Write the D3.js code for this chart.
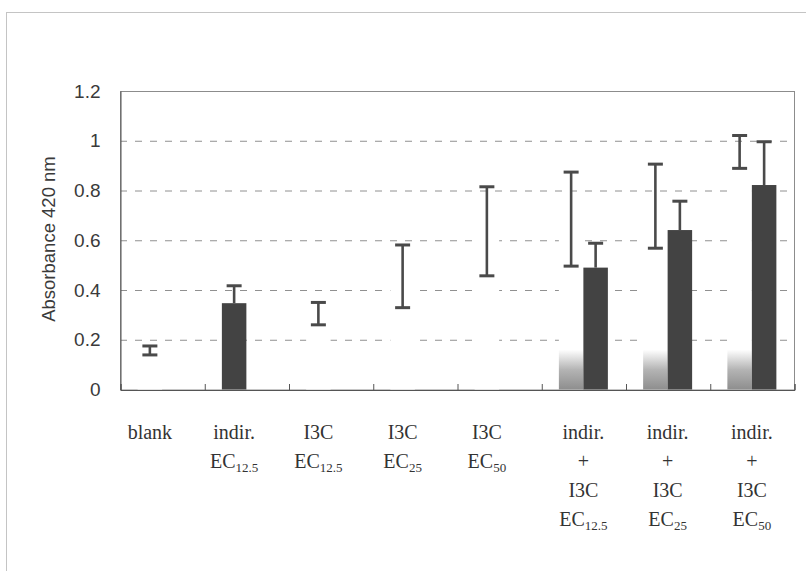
<!DOCTYPE html>
<html>
<head>
<meta charset="utf-8">
<script src="https://cdn.jsdelivr.net/npm/d3@7"></script>
<style>
  html, body { margin: 0; padding: 0; background: #fff; }
  svg { display: block; }
</style>
</head>
<body>
<svg id="chart" width="806" height="571"></svg>
<script>
// Absorbance at 420 nm per treatment group
const categories = [
  "blank", "indir. EC12.5", "I3C EC12.5", "I3C EC25", "I3C EC50",
  "indir. + I3C EC12.5", "indir. + I3C EC25", "indir. + I3C EC50"
];
// label lines; a pair is [text, subscript]
const categoryLabels = [
  [["blank"]],
  [["indir."], ["EC", "12.5"]],
  [["I3C"], ["EC", "12.5"]],
  [["I3C"], ["EC", "25"]],
  [["I3C"], ["EC", "50"]],
  [["indir."], ["+"], ["I3C"], ["EC", "12.5"]],
  [["indir."], ["+"], ["I3C"], ["EC", "25"]],
  [["indir."], ["+"], ["I3C"], ["EC", "50"]]
];
// first bar of each group and its error (± SD)
const seriesA    = [0.157, 0.347, 0.305, 0.455, 0.636, 0.685, 0.737, 0.955];
const seriesAErr = [0.018, 0.070, 0.045, 0.126, 0.179, 0.189, 0.169, 0.066];
// second bar, present only for the combinations
const seriesB    = [null, null, null, null, null, 0.490, 0.641, 0.822];
const seriesBErr = [null, null, null, null, null, 0.098, 0.116, 0.174];
const yTicks = [0, 0.2, 0.4, 0.6, 0.8, 1, 1.2];

const svg = d3.select("#chart");
const plot = { left: 120, right: 794, top: 91, bottom: 389.5 };

// outer chart frame
svg.append("rect")
  .attr("x", 6.5).attr("y", 12.5).attr("width", 900).attr("height", 700)
  .attr("fill", "none").attr("stroke", "#c4c4c4").attr("stroke-width", 1);

const x = d3.scaleBand().domain(categories).range([plot.left, plot.right]).padding(0);
const bw = x.bandwidth();
const barW = 24.5;
const slot = d3.scaleBand().domain(["A", "B"]).range([bw / 2 - barW, bw / 2 + barW]).padding(0);
const y = d3.scaleLinear().domain([0, 1.2]).range([plot.bottom, plot.top]);

// fill for the pale lower part of the combination bars
const defs = svg.append("defs");
const grad = defs.append("linearGradient")
  .attr("id", "paleFill").attr("gradientUnits", "userSpaceOnUse")
  .attr("x1", 0).attr("x2", 0).attr("y1", y(0)).attr("y2", y(0.16));
grad.append("stop").attr("offset", 0).attr("stop-color", "#8e8e8e");
grad.append("stop").attr("offset", 0.5).attr("stop-color", "#b4b4b4");
grad.append("stop").attr("offset", 1).attr("stop-color", "#ffffff");

// dashed gridlines
svg.append("g").selectAll("line")
  .data(yTicks.filter(v => v > 0 && v < 1.2))
  .join("line")
  .attr("x1", plot.left).attr("x2", plot.right)
  .attr("y1", d => y(d) + 0.5).attr("y2", d => y(d) + 0.5)
  .attr("stroke", "#909090").attr("stroke-width", 1)
  .attr("stroke-dasharray", "7,8");

// plot area border
svg.append("rect")
  .attr("x", plot.left + 0.5).attr("y", plot.top + 0.5)
  .attr("width", plot.right - plot.left).attr("height", plot.bottom - plot.top)
  .attr("fill", "none").attr("stroke", "#8c8c8c").attr("stroke-width", 1);

const darkFill = "#434343";
const rows = categories.map((c, i) => ({
  cat: c, i,
  a: seriesA[i], aErr: seriesAErr[i],
  b: seriesB[i], bErr: seriesBErr[i],
  paired: seriesB[i] != null
}));

// a lone bar stays in slot A
const xA = d => x(d.cat) + slot("A");
const xB = d => x(d.cat) + slot("B");

function fillA(d) {
  if (d.cat === "indir. EC12.5") return darkFill;
  return d.paired ? "url(#paleFill)" : "#ffffff";
}

const bars = svg.append("g");
bars.selectAll("rect.a").data(rows).join("rect")
  .attr("class", "a")
  .attr("x", xA).attr("width", barW)
  .attr("y", d => y(d.a)).attr("height", d => y(0) - y(d.a))
  .attr("fill", fillA);

bars.selectAll("rect.b").data(rows.filter(d => d.paired)).join("rect")
  .attr("class", "b")
  .attr("x", xB).attr("width", barW)
  .attr("y", d => y(d.b)).attr("height", d => y(0) - y(d.b))
  .attr("fill", darkFill);

// error bars; on dark bars the lower half disappears into the bar
const errData = [];
rows.forEach(d => {
  errData.push({ cx: xA(d) + barW / 2, v: d.a, e: d.aErr, dark: fillA(d) === darkFill });
  if (d.paired) errData.push({ cx: xB(d) + barW / 2, v: d.b, e: d.bErr, dark: true });
});
const capW = 15;
const eg = svg.append("g").attr("stroke", "#4a4a4a");
eg.selectAll("line.stem").data(errData).join("line")
  .attr("class", "stem")
  .attr("x1", d => d.cx).attr("x2", d => d.cx)
  .attr("y1", d => y(d.dark ? d.v : d.v - d.e)).attr("y2", d => y(d.v + d.e))
  .attr("stroke-width", 2.6);
eg.selectAll("line.capTop").data(errData).join("line")
  .attr("class", "capTop")
  .attr("x1", d => d.cx - capW / 2).attr("x2", d => d.cx + capW / 2)
  .attr("y1", d => y(d.v + d.e)).attr("y2", d => y(d.v + d.e))
  .attr("stroke-width", 3);
eg.selectAll("line.capBot").data(errData.filter(d => !d.dark)).join("line")
  .attr("class", "capBot")
  .attr("x1", d => d.cx - capW / 2).attr("x2", d => d.cx + capW / 2)
  .attr("y1", d => y(d.v - d.e)).attr("y2", d => y(d.v - d.e))
  .attr("stroke-width", 3);

// y axis
const yAxis = svg.append("g")
  .attr("transform", `translate(${plot.left + 0.5},0)`)
  .call(d3.axisLeft(y).tickValues(yTicks).tickSize(0).tickPadding(20)
    .tickFormat(d => d3.format("")(+d.toFixed(1))));
yAxis.select(".domain").attr("stroke", "#555");
yAxis.selectAll("text")
  .attr("font-family", "'Liberation Sans', Arial, sans-serif")
  .attr("font-size", 19).attr("fill", "#3a3a3a");

// x axis: ticks at group boundaries, pointing inward
const xb = d3.scaleLinear().domain([0, categories.length]).range([plot.left, plot.right]);
const xAxis = svg.append("g")
  .attr("transform", `translate(0.5,${plot.bottom + 0.5})`)
  .call(d3.axisBottom(xb).ticks(categories.length).tickSize(-6).tickFormat(""));
xAxis.select(".domain").attr("stroke", "#555");
xAxis.selectAll(".tick line").attr("stroke", "#555");

// y axis title
svg.append("text")
  .attr("transform", "translate(55,239) rotate(-90)")
  .attr("text-anchor", "middle")
  .attr("font-family", "'Liberation Sans', Arial, sans-serif")
  .attr("font-size", 18.5).attr("fill", "#3a3a3a")
  .text("Absorbance 420 nm");

// category labels, centred under the group's bars
const lineY = [439, 468, 497, 526];
const lab = svg.append("g")
  .attr("font-family", "'Liberation Serif', 'Times New Roman', serif")
  .attr("fill", "#333");
rows.forEach(d => {
  const cx = d.paired ? x(d.cat) + bw / 2 : xA(d) + barW / 2;
  categoryLabels[d.i].forEach((ln, k) => {
    const t = lab.append("text")
      .attr("x", cx).attr("y", lineY[k])
      .attr("text-anchor", "middle").attr("font-size", 20);
    t.append("tspan").text(ln[0]);
    if (ln.length > 1) {
      t.append("tspan").attr("font-size", 13).attr("dy", 4).text(ln[1]);
    }
  });
});
</script>
</body>
</html>
